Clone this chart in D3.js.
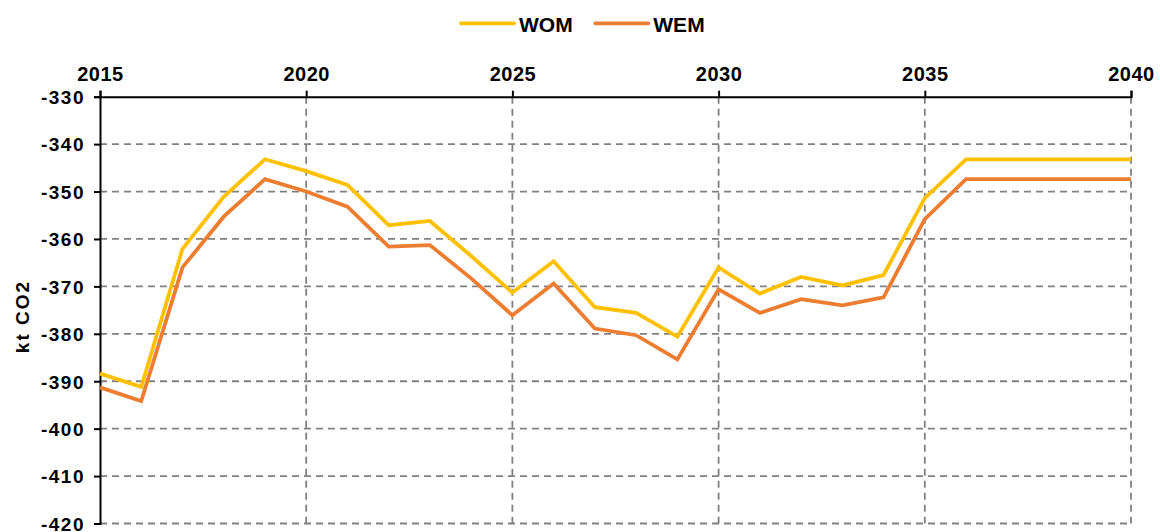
<!DOCTYPE html>
<html>
<head>
<meta charset="utf-8">
<script src="https://cdn.jsdelivr.net/npm/d3@7"></script>
<style>
  body { margin: 0; background: #fff; }
  text { font-family: "Liberation Sans", Arial, sans-serif; font-weight: bold; fill: #000; }
</style>
</head>
<body>
<svg id="chart"></svg>
<script>
// Data
const years = d3.range(2015, 2041);
const wom = [-388.4, -391.2, -362.1, -351.1, -343.2, -345.7, -348.6, -357.1, -356.2, -363.6,
             -371.3, -364.7, -374.4, -375.6, -380.6, -366.0, -371.5, -368.0, -369.8, -367.6,
             -351.4, -343.2, -343.2, -343.2, -343.2, -343.2];
const wem = [-391.3, -394.2, -366.0, -355.3, -347.4, -350.0, -353.2, -361.6, -361.3, -368.3,
             -376.1, -369.4, -378.9, -380.3, -385.4, -370.6, -375.6, -372.7, -374.0, -372.3,
             -355.8, -347.4, -347.4, -347.4, -347.4, -347.4];
const seriesNames = ['WOM', 'WEM'];
const xTicks = [2015, 2020, 2025, 2030, 2035, 2040];
const yTicks = [-330, -340, -350, -360, -370, -380, -390, -400, -410, -420];

const config = {
  width: 1160, height: 532,
  margin: {top: 96.7, right: 29, bottom: 8.5, left: 100}
};
const colors = {WOM: '#FFC000', WEM: '#ED7D31'};

const svg = d3.select('#chart')
    .attr('width', config.width)
    .attr('height', config.height);

const innerW = config.width - config.margin.left - config.margin.right;
const innerH = config.height - config.margin.top - config.margin.bottom;

const chart = svg.append('g')
    .attr('transform', `translate(${config.margin.left},${config.margin.top})`);

const x = d3.scaleLinear().domain([2015, 2040]).range([0, innerW]);
const y = d3.scaleLinear().domain([-330, -420]).range([0, innerH]);

// gridlines
chart.append('g')
    .selectAll('line')
    .data(yTicks.slice(1))
    .join('line')
    .attr('x1', 0).attr('x2', innerW)
    .attr('y1', d => y(d)).attr('y2', d => y(d))
    .attr('stroke', '#808080').attr('stroke-width', 1.8)
    .attr('stroke-dasharray', '7,5');

chart.append('g')
    .selectAll('line')
    .data(xTicks.slice(1))
    .join('line')
    .attr('x1', d => x(d)).attr('x2', d => x(d))
    .attr('y1', 0).attr('y2', innerH)
    .attr('stroke', '#808080').attr('stroke-width', 1.8)
    .attr('stroke-dasharray', '7,5');

// axes
const xAxis = d3.axisTop(x).tickValues(xTicks).tickFormat(d3.format('d'))
    .tickSize(6).tickPadding(9.5);
const yAxis = d3.axisLeft(y).tickValues(yTicks).tickFormat(d => d)
    .tickSize(6).tickPadding(9);

const xAxisG = chart.append('g').call(xAxis);
const yAxisG = chart.append('g').call(yAxis);

[xAxisG, yAxisG].forEach(g => {
  g.select('.domain').attr('stroke', '#000').attr('stroke-width', 2);
  g.selectAll('.tick line').attr('stroke', '#000').attr('stroke-width', 2);
  g.selectAll('.tick text')
      .style('font-family', '"Liberation Sans", Arial, sans-serif')
      .style('font-weight', 'bold')
      .attr('fill', '#000');
});
xAxisG.selectAll('.tick text')
    .style('font-size', '20px')
    .style('letter-spacing', '0.5px');
yAxisG.selectAll('.tick text')
    .style('font-size', '19px')
    .style('letter-spacing', '1.5px')
    .attr('dy', '0.36em');

// lines
const line = d3.line()
    .x((d, i) => x(years[i]))
    .y(d => y(d));

const seriesData = {WOM: wom, WEM: wem};
seriesNames.forEach(name => {
  chart.append('path')
      .datum(seriesData[name])
      .attr('fill', 'none')
      .attr('stroke', colors[name])
      .attr('stroke-width', 3.8)
      .attr('stroke-linejoin', 'miter')
      .attr('d', line);
});

// y axis title
svg.append('text')
    .attr('transform', 'translate(28.5,316.5) rotate(-90)')
    .attr('text-anchor', 'middle')
    .style('font-size', '19px')
    .style('letter-spacing', '2px')
    .text('kt CO2');

// legend
const legend = svg.append('g').attr('transform', 'translate(461,23.3)');
const legendPos = [0, 134.3];
seriesNames.forEach((name, i) => {
  const g = legend.append('g').attr('transform', `translate(${legendPos[i]},0)`);
  g.append('line')
      .attr('x1', 0).attr('x2', 53)
      .attr('y1', 0).attr('y2', 0)
      .attr('stroke', colors[name])
      .attr('stroke-width', 3.8)
      .attr('stroke-linecap', 'round');
  g.append('text')
      .attr('x', 58)
      .attr('y', 8.4)
      .style('font-size', '21px')
      .text(name);
});
</script>
</body>
</html>
